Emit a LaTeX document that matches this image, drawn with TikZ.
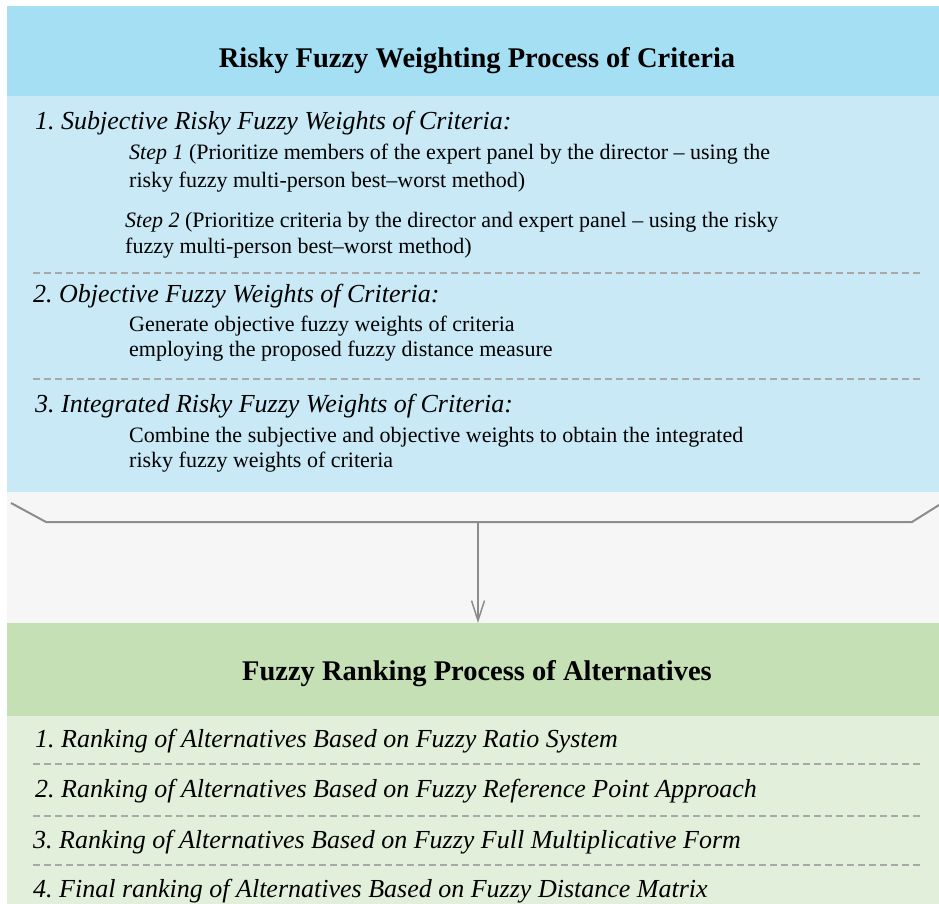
\documentclass[tikz,border=0pt]{standalone}
\usepackage{fontspec}
\setmainfont{Liberation Serif}
\usetikzlibrary{arrows.meta}
\frenchspacing

\definecolor{hdrblue}{HTML}{A4DFF3}
\definecolor{bodyblue}{HTML}{C8E9F5}
\definecolor{gapgray}{HTML}{F6F6F6}
\definecolor{hdrgreen}{HTML}{C5E0B4}
\definecolor{bodygreen}{HTML}{E2EFDA}
\definecolor{linegray}{HTML}{8C8C8C}
\definecolor{dashgray}{HTML}{A8A8A8}

\tikzset{
  panel/.style={anchor=north west, inner sep=0pt, outer sep=0pt, draw=none},
  title/.style={font=\fontsize{28.5}{32}\selectfont\bfseries, inner sep=0pt, anchor=base},
  heading/.style={font=\fontsize{26}{30}\selectfont\itshape, inner sep=0pt, anchor=base west},
  bodytext/.style={font=\fontsize{22}{26}\selectfont, inner sep=0pt, anchor=base west},
  separator/.style={draw=dashgray, line width=1.4pt, dash pattern=on 7pt off 4pt},
  bracket/.style={draw=linegray, line width=2pt},
  flow/.style={draw=linegray, line width=1.5pt, -{Straight Barb[length=20pt,width=13pt,line width=1.5pt]}}
}

\begin{document}
\begin{tikzpicture}[x=1pt,y=-1pt]
\useasboundingbox (0,0) rectangle (939,904);
\fill[white] (0,0) rectangle (939,904);

% coloured bands
\node[panel, fill=hdrblue, minimum width=932pt, minimum height=90pt] (hdrA) at (7,6) {};
\node[panel, fill=bodyblue, minimum width=932pt, minimum height=396pt] (bodyA) at (7,96) {};
\node[panel, fill=gapgray, minimum width=932pt, minimum height=131pt] (gap) at (7,492) {};
\node[panel, fill=hdrgreen, minimum width=932pt, minimum height=93pt] (hdrB) at (7,623) {};
\node[panel, fill=bodygreen, minimum width=932pt, minimum height=188pt] (bodyB) at (7,716) {};

% upper block: weighting of criteria
\node[title] (tA) at (477,68) {Risky Fuzzy Weighting Process of Criteria};

\node[heading] (h1) at (35,130) {1. Subjective Risky Fuzzy Weights of Criteria:};
\node[bodytext] (s1a) at (129,160) {\textit{Step 1} (Prioritize members of the expert panel by the director – using the};
\node[bodytext] (s1b) at (129,187) {risky fuzzy multi-person best–worst method)};
\node[bodytext] (s2a) at (125,227) {\textit{Step 2} (Prioritize criteria by the director and expert panel – using the risky};
\node[bodytext] (s2b) at (125,253) {fuzzy multi-person best–worst method)};
\draw[separator] (33,273) -- (920,273);

\node[heading] (h2) at (33,302) {2. Objective Fuzzy Weights of Criteria:};
\node[bodytext] (g1) at (129,331) {Generate objective fuzzy weights of criteria};
\node[bodytext] (g2) at (129,356) {employing the proposed fuzzy distance measure};
\draw[separator] (33,379) -- (920,379);

\node[heading] (h3) at (35,412) {3. Integrated Risky Fuzzy Weights of Criteria:};
\node[bodytext] (c1) at (129,442) {Combine the subjective and objective weights to obtain the integrated};
\node[bodytext] (c2) at (129,467) {risky fuzzy weights of criteria};

% bracket gathering the upper block into the arrow
\coordinate (bl) at (11,503);
\coordinate (blc) at (46,522);
\coordinate (brc) at (912,522);
\coordinate (br) at (939,505);
\coordinate (bm) at (478,522);
\draw[bracket] (bl) -- (blc) -- (brc) -- (br);
\draw[flow] (bm) -- (bm |- hdrB.north);

% lower block: ranking of alternatives
\node[title] (tB) at (477,680) {Fuzzy Ranking Process of Alternatives};

\node[heading] (r1) at (35,747) {1. Ranking of Alternatives Based on Fuzzy Ratio System};
\draw[separator] (33,764) -- (920,764);
\node[heading] (r2) at (35,797) {2. Ranking of Alternatives Based on Fuzzy Reference Point Approach};
\draw[separator] (33,816) -- (920,816);
\node[heading] (r3) at (33,848) {3. Ranking of Alternatives Based on Fuzzy Full Multiplicative Form};
\draw[separator] (33,865) -- (920,865);
\node[heading] (r4) at (33,897) {4. Final ranking of Alternatives Based on Fuzzy Distance Matrix};
\end{tikzpicture}
\end{document}
